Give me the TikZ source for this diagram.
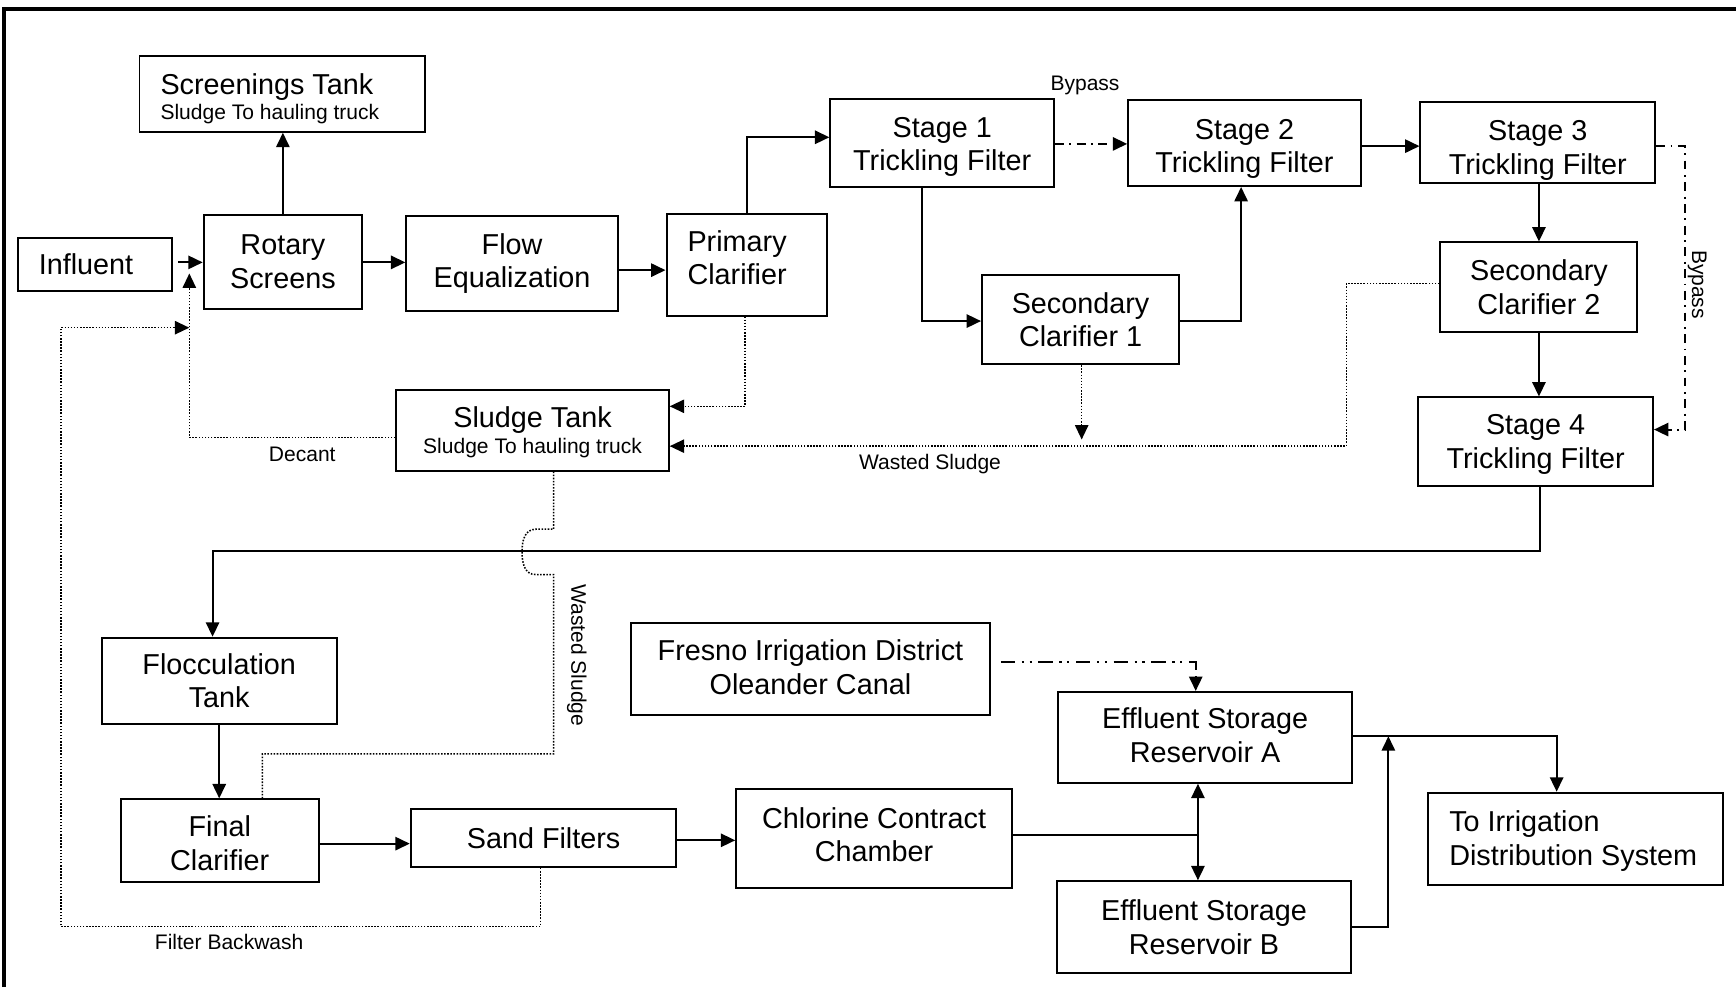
\documentclass[tikz,border=0pt]{standalone}
\usepackage{fontspec}
\setmainfont{Liberation Sans}
\usetikzlibrary{arrows.meta}
\newcommand\myhs[1]{\rule{0pt}{#1}}
\newcommand\myds[1]{\rule[-#1]{0pt}{#1}}
\begin{document}
\begin{tikzpicture}[x=0.5pt,y=-0.5pt,
  bx/.style={draw, line width=0.9pt, inner sep=0pt, align=center, font=\fontsize{13}{15}\selectfont},
  lbx/.style={align=flush left, inner xsep=9.5pt},
  tip/.style={-{Triangle[length=6.5pt,width=6pt]}},
  ln/.style={line width=0.9pt},
  arr/.style={ln, tip},
  dotln/.style={line width=0.7pt, dash pattern=on 0.7pt off 0.7pt},
  dotarr/.style={dotln, tip},
  ddarr/.style={line width=0.9pt, dash pattern=on 4pt off 2.5pt on 0.8pt off 2.5pt, tip},
  dddarr/.style={line width=0.9pt, dash pattern=on 6.5pt off 3pt on 1pt off 2.5pt on 1pt off 3pt, tip},
  lab/.style={font=\fontsize{9.5}{11}\selectfont, inner sep=0pt}]
\useasboundingbox (0,0) rectangle (1568,891.5);
% frame
\draw[line width=1.5pt] (3.6,891.5) -- (3.6,8) -- (1568,8);

% boxes
\node[bx, lbx, minimum width=129pt, minimum height=34pt, text width=110pt] (scr) at (255,85)
  {\myhs{13.5pt}Screenings Tank\\[-3.5pt]{\fontsize{9.5}{11}\selectfont Sludge To hauling truck}};
\node[bx, lbx, minimum width=69.5pt, minimum height=24pt, text width=50.5pt] (inf) at (85.5,239) {Influent};
\node[bx, minimum width=71.5pt, minimum height=42.5pt] (rot) at (255.5,236.5) {Rotary\\Screens};
\node[bx, minimum width=95.5pt, minimum height=43pt] (feq) at (462.5,238) {Flow\\Equalization};
\node[bx, lbx, minimum width=72.5pt, minimum height=46pt, text width=53.5pt] (pri) at (674.5,239) {Primary\\Clarifier\myds{6pt}};
\node[bx, minimum width=101pt, minimum height=40pt] (s1) at (851,129) {\myhs{12.5pt}Stage 1\\Trickling Filter};
\node[bx, minimum width=105pt, minimum height=39pt] (s2) at (1124,129) {\myhs{14.5pt}Stage 2\\Trickling Filter};
\node[bx, minimum width=106pt, minimum height=36.5pt] (s3) at (1389,128.5) {\myhs{16.5pt}Stage 3\\Trickling Filter};
\node[bx, minimum width=89pt, minimum height=40.5pt] (sc1) at (976,288.5) {Secondary\\Clarifier 1};
\node[bx, minimum width=89pt, minimum height=40.5pt] (sc2) at (1390,259.5) {Secondary\\Clarifier 2};
\node[bx, minimum width=106pt, minimum height=40pt] (s4) at (1387,399) {\myhs{11.5pt}Stage 4\\Trickling Filter};
\node[bx, minimum width=123pt, minimum height=36.5pt] (sl) at (481,388.5)
  {\myhs{11.5pt}Sludge Tank\\[-3pt]{\fontsize{9.5}{11}\selectfont Sludge To hauling truck}};
\node[bx, minimum width=106pt, minimum height=39pt] (flo) at (198,615) {Flocculation\\Tank};
\node[bx, minimum width=89.5pt, minimum height=37.5pt] (fin) at (198.5,759.5) {\myhs{11.5pt}Final\\Clarifier};
\node[bx, minimum width=120pt, minimum height=26pt] (sand) at (491,757) {Sand Filters};
\node[bx, minimum width=124.5pt, minimum height=44.5pt] (chl) at (789.5,757.5) {Chlorine Contract\\Chamber\myds{4pt}};
\node[bx, minimum width=162pt, minimum height=41.5pt] (fre) at (732,604.5) {Fresno Irrigation District\\Oleander Canal\myds{2pt}};
\node[bx, minimum width=132.5pt, minimum height=41pt] (ra) at (1088.5,666) {Effluent Storage\\Reservoir A\myds{2pt}};
\node[bx, minimum width=132.5pt, minimum height=41.5pt] (rb) at (1087.5,837.5) {Effluent Storage\\Reservoir B};
\node[bx, lbx, minimum width=133pt, minimum height=41.5pt, text width=114pt] (irr) at (1423,757.5) {\myhs{11.5pt}To Irrigation\\Distribution System};

% helper coordinates
\coordinate (h237) at (0,237);
\coordinate (h244) at (0,244);
\coordinate (h124) at (0,124);
\coordinate (h130) at (0,130);
\coordinate (h132) at (0,132);
\coordinate (h290) at (0,290);
\coordinate (h388) at (0,388);
\coordinate (h498) at (0,498);
\coordinate (h762) at (0,762);
\coordinate (h759) at (0,759);
\coordinate (h598) at (0,598);
\coordinate (h665) at (0,665);
\coordinate (h837) at (0,837);
\coordinate (h367) at (0,367);
\coordinate (h256) at (0,256);
\coordinate (h403) at (0,403);
\coordinate (h395) at (0,395);
\coordinate (h681) at (0,681);
\coordinate (v833) at (833,0);
\coordinate (v1121) at (1121,0);
\coordinate (v1522) at (1522,0);
\coordinate (v1390) at (1390,0);
\coordinate (v1391) at (1391,0);
\coordinate (v192) at (192,0);
\coordinate (v1080) at (1080,0);
\coordinate (v1406) at (1406,0);
\coordinate (v1254) at (1254,0);
\coordinate (v673) at (673,0);
\coordinate (v977) at (977,0);
\coordinate (v1216) at (1216,0);
\coordinate (v500) at (500,0);
\coordinate (v237) at (237,0);
\coordinate (v488) at (488,0);
\coordinate (v55) at (55,0);
\coordinate (jab) at (1082,754);
\coordinate (wsend) at (977,397);
\coordinate (dectip) at (171,247);
\coordinate (bwtip) at (171,296);

% solid connectors
\draw[arr, shorten <=2.5pt] (inf.east |- h237) -- (rot.west |- h237);
\draw[arr] (rot.north) -- (scr.south -| rot.north);
\draw[arr] (rot.east |- h237) -- (feq.west |- h237);
\draw[arr] (feq.east |- h244) -- (pri.west |- h244);
\draw[arr] (pri.north) |- (s1.west |- h124);
\draw[ddarr] (s1.east |- h130) -- (s2.west |- h130);
\draw[arr] (s1.south -| v833) |- (sc1.west |- h290);
\draw[arr] (sc1.east |- h290) -| (s2.south -| v1121);
\draw[arr] (s2.east |- h132) -- (s3.west |- h132);
\draw[ddarr] (s3.east |- h132) -| (v1522 |- h388) -- (s4.east |- h388);
\draw[arr] (s3.south -| v1390) -- (sc2.north -| v1390);
\draw[arr] (sc2.south -| v1390) -- (s4.north -| v1390);
\draw[arr] (s4.south -| v1391) |- (v192 |- h498) -- (flo.north -| v192);
\draw[arr] (flo.south) -- (fin.north -| flo.south);
\draw[arr] (fin.east |- h762) -- (sand.west |- h762);
\draw[arr] (sand.east |- h759) -- (chl.west |- h759);
\draw[ln] (chl.east |- jab) -- (jab);
\draw[arr] (jab) -- (ra.south -| jab);
\draw[arr] (jab) -- (rb.north -| jab);
\draw[dddarr, shorten <=4.5pt] (fre.east |- h598) -| (ra.north -| v1080);
\draw[arr] (ra.east |- h665) -| (irr.north -| v1406);
\draw[arr] (rb.east |- h837) -| (v1254 |- h665);

% dotted connectors
\draw[dotarr] (pri.south -| v673) |- (sl.east |- h367);
\draw[dotarr] (sc1.south -| v977) -- (wsend);
\draw[dotarr] (sc2.west |- h256) -| (v1216 |- h403) -- (sl.east |- h403);
\draw[dotarr] (sl.west |- h395) -| (dectip);
\draw[dotarr] (sand.south -| v488) |- (v55 |- h837) |- (bwtip);
\draw[dotln] (sl.south -| v500) -- (500,478) -- (484,478)
  .. controls (474,478) and (471.5,488) .. (471.5,498.5)
  .. controls (471.5,509) and (474,519) .. (484,519) -- (500,519)
  |- (v237 |- h681) -- (fin.north -| v237);

% labels
\node[lab] (lbyp1) at (980,77) {Bypass};
\node[lab, rotate=-90] (lbyp2) at (1533,257) {Bypass};
\node[lab] (ldec) at (273,410) {Decant};
\node[lab] (lws1) at (840,419) {Wasted Sludge};
\node[lab, rotate=-90] (lws2) at (521,592) {Wasted Sludge};
\node[lab] (lfb) at (207,851) {Filter Backwash};
\end{tikzpicture}
\end{document}
